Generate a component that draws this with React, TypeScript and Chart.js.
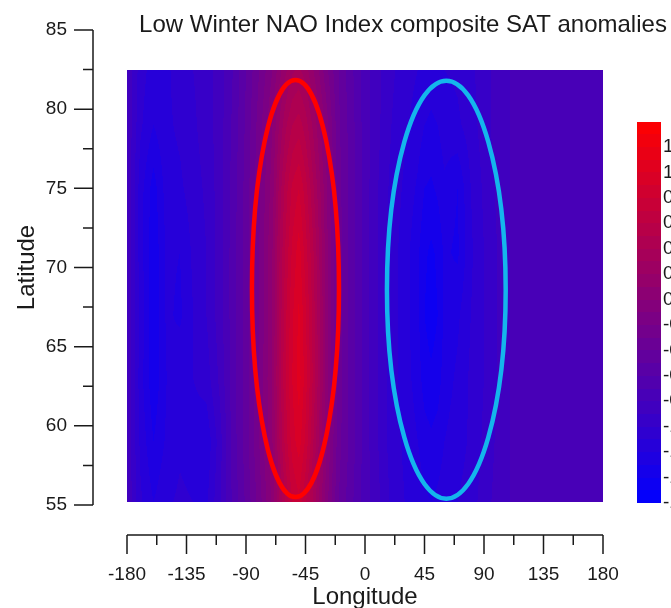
import React, { useEffect, useRef } from "react";
import { Chart, registerables } from "chart.js";

Chart.register(...registerables);

const TITLE = "Low Winter NAO Index composite SAT anomalies";
const X_TITLE = "Longitude";
const Y_TITLE = "Latitude";

const X_TICKS = [-180, -135, -90, -45, 0, 45, 90, 135, 180];
const X_MINOR = [-157.5, -112.5, -67.5, -22.5, 22.5, 67.5, 112.5, 157.5];
const Y_TICKS = [55, 60, 65, 70, 75, 80, 85];
const Y_MINOR = [57.5, 62.5, 67.5, 72.5, 77.5, 82.5];
const CB_TICKS = [1.2, 1.0, 0.8, 0.6, 0.4, 0.2, 0.0, -0.2, -0.4, -0.6, -0.8, -1.0, -1.2, -1.4, -1.6];
const CB_MIN = -1.6;
const CB_MAX = 1.4;
const BAND = 0.1;

// grid longitudes (columns) and latitudes (rows, bottom to top)
const LONS = [-180, -170, -160, -150, -140, -130, -120, -110, -100, -90, -80, -70, -65, -60, -55, -50, -45, -40, -35, -30, -20, -10, 0, 10, 20, 30, 40, 45, 50, 55, 60, 70, 80, 90, 100, 110, 120, 140, 160, 180];
const LATS = [55.2, 59, 63, 67, 71, 75, 79, 82.5];

// SAT anomaly values per latitude row
const SAT_55 = [-0.80, -1.08, -1.20, -1.12, -1.08, -1.10, -1.12, -0.92, -0.68, -0.48, -0.25, 0.02, 0.28, 0.52, 0.70, 0.78, 0.62, 0.42, 0.20, -0.02, -0.40, -0.58, -0.75, -0.88, -1.02, -1.10, -1.15, -1.18, -1.20, -1.18, -1.15, -1.10, -1.05, -0.95, -0.86, -0.80, -0.74, -0.72, -0.72, -0.75];
const SAT_59 = [-0.80, -1.12, -1.30, -1.18, -1.12, -1.15, -1.18, -0.95, -0.66, -0.45, -0.20, 0.10, 0.38, 0.65, 0.85, 0.95, 0.78, 0.55, 0.30, 0.05, -0.36, -0.55, -0.75, -0.90, -1.05, -1.12, -1.20, -1.25, -1.28, -1.25, -1.20, -1.15, -1.08, -0.98, -0.88, -0.80, -0.74, -0.72, -0.72, -0.75];
const SAT_63 = [-0.80, -1.15, -1.38, -1.20, -1.12, -1.10, -1.05, -0.88, -0.65, -0.45, -0.20, 0.12, 0.42, 0.70, 0.90, 1.05, 0.85, 0.62, 0.36, 0.10, -0.35, -0.55, -0.75, -0.90, -1.05, -1.15, -1.25, -1.35, -1.38, -1.35, -1.25, -1.18, -1.08, -1.00, -0.90, -0.80, -0.74, -0.72, -0.72, -0.75];
const SAT_67 = [-0.80, -1.12, -1.38, -1.18, -1.22, -1.10, -1.00, -0.85, -0.65, -0.45, -0.20, 0.10, 0.40, 0.68, 0.88, 1.02, 0.82, 0.60, 0.35, 0.10, -0.35, -0.55, -0.75, -0.90, -1.05, -1.15, -1.28, -1.40, -1.45, -1.40, -1.28, -1.22, -1.10, -1.00, -0.90, -0.80, -0.74, -0.72, -0.72, -0.75];
const SAT_71 = [-0.80, -1.15, -1.38, -1.18, -1.20, -1.08, -1.00, -0.85, -0.65, -0.45, -0.20, 0.10, 0.38, 0.62, 0.82, 0.95, 0.75, 0.55, 0.32, 0.08, -0.35, -0.55, -0.75, -0.90, -1.05, -1.15, -1.28, -1.38, -1.42, -1.38, -1.28, -1.32, -1.12, -1.00, -0.90, -0.80, -0.74, -0.72, -0.72, -0.75];
const SAT_75 = [-0.80, -1.15, -1.35, -1.15, -1.12, -1.05, -0.98, -0.85, -0.66, -0.46, -0.22, 0.05, 0.32, 0.55, 0.72, 0.80, 0.65, 0.45, 0.25, 0.05, -0.36, -0.55, -0.75, -0.90, -1.03, -1.12, -1.22, -1.30, -1.32, -1.28, -1.22, -1.30, -1.10, -0.98, -0.88, -0.80, -0.74, -0.72, -0.72, -0.75];
const SAT_79 = [-0.80, -1.08, -1.20, -1.12, -1.08, -1.02, -0.95, -0.85, -0.68, -0.48, -0.25, 0.00, 0.20, 0.38, 0.50, 0.55, 0.45, 0.30, 0.15, -0.02, -0.38, -0.56, -0.75, -0.88, -1.00, -1.08, -1.15, -1.20, -1.22, -1.20, -1.15, -1.12, -1.05, -0.95, -0.85, -0.80, -0.74, -0.72, -0.72, -0.75];
const SAT_82 = [-0.80, -1.05, -1.15, -1.12, -1.05, -1.00, -0.95, -0.85, -0.70, -0.50, -0.30, -0.10, 0.05, 0.18, 0.28, 0.32, 0.25, 0.12, 0.00, -0.15, -0.40, -0.58, -0.75, -0.88, -0.98, -1.05, -1.10, -1.12, -1.15, -1.12, -1.10, -1.08, -1.02, -0.95, -0.85, -0.80, -0.74, -0.72, -0.72, -0.75];
const GRID = [SAT_55, SAT_59, SAT_63, SAT_67, SAT_71, SAT_75, SAT_79, SAT_82];

// highlighted regions: [lon centre, lat centre, lon half-width, lat half-height]
const RED_ELLIPSE = [-52.6, 68.67, 32.9, 13.17];
const CYAN_ELLIPSE = [61.5, 68.6, 44.9, 13.2];

const FONT = "'Liberation Sans', Arial, sans-serif";
const INK = "#1a1a1a";

const clamp01 = (v: number) => (v < 0 ? 0 : v > 1 ? 1 : v);

function seg(arr: number[], v: number): [number, number] {
  let i = 0;
  while (i < arr.length - 2 && v > arr[i + 1]) i++;
  return [i, clamp01((v - arr[i]) / (arr[i + 1] - arr[i]))];
}

function sample(lon: number, lat: number) {
  const [i, fx] = seg(LONS, lon);
  const [j, fy] = seg(LATS, lat);
  const r0 = GRID[j];
  const r1 = GRID[j + 1];
  const a = r0[i] * (1 - fx) + r0[i + 1] * fx;
  const b = r1[i] * (1 - fx) + r1[i + 1] * fx;
  return a * (1 - fy) + b * fy;
}

function colorOf(v: number): [number, number, number] {
  const q = Math.floor((v - CB_MIN) / BAND) * BAND + BAND / 2 + CB_MIN;
  const t = clamp01((q - CB_MIN) / (CB_MAX - CB_MIN));
  return [Math.round(255 * t), 0, Math.round(255 * (1 - t))];
}

const satPlugin = {
  id: "satPlugin",
  afterDraw(chart: any) {
    const { ctx, chartArea } = chart;
    const xs = chart.scales.x;
    const ys = chart.scales.y;
    const cb = chart.scales.cb;

    // heatmap
    const left = Math.round(xs.getPixelForValue(LONS[0]));
    const right = Math.round(xs.getPixelForValue(LONS[LONS.length - 1]));
    const top = Math.round(ys.getPixelForValue(LATS[LATS.length - 1]));
    const bottom = Math.round(ys.getPixelForValue(LATS[0]));
    const w = right - left;
    const h = bottom - top;
    const off = document.createElement("canvas");
    off.width = w;
    off.height = h;
    const octx = off.getContext("2d")!;
    const img = octx.createImageData(w, h);
    for (let py = 0; py < h; py++) {
      const lat = ys.getValueForPixel(top + py + 0.5);
      for (let px = 0; px < w; px++) {
        const lon = xs.getValueForPixel(left + px + 0.5);
        const [r, g, b] = colorOf(sample(lon, lat));
        const k = (py * w + px) * 4;
        img.data[k] = r;
        img.data[k + 1] = g;
        img.data[k + 2] = b;
        img.data[k + 3] = 255;
      }
    }
    octx.putImageData(img, 0, 0);
    ctx.save();
    ctx.drawImage(off, left, top);

    // ellipses
    const drawEllipse = (e: number[], color: string) => {
      const cx = xs.getPixelForValue(e[0]);
      const cy = ys.getPixelForValue(e[1]);
      const rx = Math.abs(xs.getPixelForValue(e[0] + e[2]) - cx);
      const ry = Math.abs(ys.getPixelForValue(e[1] + e[3]) - cy);
      ctx.beginPath();
      ctx.ellipse(cx, cy, rx, ry, 0, 0, Math.PI * 2);
      ctx.strokeStyle = color;
      ctx.lineWidth = 4.5;
      ctx.stroke();
    };
    drawEllipse(RED_ELLIPSE, "#ff0000");
    drawEllipse(CYAN_ELLIPSE, "#14b6ec");

    // colorbar
    const cbTop = Math.round(cb.getPixelForValue(CB_MAX));
    const cbBot = Math.round(cb.getPixelForValue(CB_MIN));
    const cbL = cb.left + 34;
    const cbW = 24;
    for (let py = cbTop; py < cbBot; py++) {
      const [r, g, b] = colorOf(cb.getValueForPixel(py + 0.5));
      ctx.fillStyle = `rgb(${r},${g},${b})`;
      ctx.fillRect(cbL, py, cbW, 1);
    }

    // detached axes
    ctx.strokeStyle = INK;
    ctx.lineWidth = 1.5;
    const ax = chartArea.left - 34;
    ctx.beginPath();
    ctx.moveTo(ax, ys.getPixelForValue(Y_TICKS[0]));
    ctx.lineTo(ax, ys.getPixelForValue(Y_TICKS[Y_TICKS.length - 1]));
    Y_TICKS.forEach((v) => {
      const p = ys.getPixelForValue(v);
      ctx.moveTo(ax - 19, p);
      ctx.lineTo(ax, p);
    });
    Y_MINOR.forEach((v) => {
      const p = ys.getPixelForValue(v);
      ctx.moveTo(ax - 10, p);
      ctx.lineTo(ax, p);
    });
    const ay = chartArea.bottom + 30;
    ctx.moveTo(xs.getPixelForValue(X_TICKS[0]), ay);
    ctx.lineTo(xs.getPixelForValue(X_TICKS[X_TICKS.length - 1]), ay);
    X_TICKS.forEach((v) => {
      const p = xs.getPixelForValue(v);
      ctx.moveTo(p, ay);
      ctx.lineTo(p, ay + 19);
    });
    X_MINOR.forEach((v) => {
      const p = xs.getPixelForValue(v);
      ctx.moveTo(p, ay);
      ctx.lineTo(p, ay + 10);
    });
    ctx.stroke();
    ctx.restore();
  },
};

export default function App() {
  const ref = useRef<HTMLCanvasElement | null>(null);

  useEffect(() => {
    if (!ref.current) return;
    const tickFont = { family: FONT, size: 19 };
    const gridFor = (len: number) => ({ display: false, drawTicks: true, tickLength: len });
    const chart = new Chart(ref.current, {
      type: "scatter",
      data: { datasets: [] },
      options: {
        animation: false,
        responsive: false,
        devicePixelRatio: 1,
        layout: { padding: 0 },
        plugins: {
          legend: { display: false },
          tooltip: { enabled: false },
          title: {
            display: true,
            text: TITLE,
            color: INK,
            font: { family: FONT, size: 24, weight: "normal", lineHeight: 1.2 },
            padding: { top: 11.2, bottom: -10 },
          },
        },
        scales: {
          x: {
            type: "linear",
            position: "bottom",
            min: X_TICKS[0],
            max: X_TICKS[X_TICKS.length - 1],
            grid: gridFor(50),
            border: { display: false },
            afterBuildTicks: (s: any) => {
              s.ticks = X_TICKS.map((v) => ({ value: v }));
            },
            afterFit: (s: any) => {
              s.height = 103;
            },
            ticks: { font: tickFont, color: INK, padding: 8, maxRotation: 0, autoSkip: false, callback: (v: any) => String(v) },
            title: { display: true, text: X_TITLE, color: INK, font: { family: FONT, size: 24, lineHeight: 1.2 }, padding: { top: 0, bottom: -4 } },
          },
          y: {
            type: "linear",
            position: "left",
            min: Y_TICKS[0],
            max: Y_TICKS[Y_TICKS.length - 1],
            grid: gridFor(52),
            border: { display: false },
            afterBuildTicks: (s: any) => {
              s.ticks = Y_TICKS.map((v) => ({ value: v }));
            },
            afterFit: (s: any) => {
              s.width = 127;
            },
            ticks: { font: tickFont, color: INK, padding: 8, autoSkip: false, callback: (v: any) => String(v) },
            title: { display: true, text: Y_TITLE, color: INK, font: { family: FONT, size: 24, lineHeight: 1.2 }, padding: { top: 12.6, bottom: 0 } },
          },
          cb: {
            type: "linear",
            position: "right",
            min: -1.616,
            max: 2.12,
            grid: gridFor(52),
            border: { display: false },
            afterBuildTicks: (s: any) => {
              s.ticks = CB_TICKS.map((v) => ({ value: v }));
            },
            afterFit: (s: any) => {
              s.width = 203;
            },
            ticks: { font: tickFont, color: INK, padding: 8, autoSkip: false, callback: (v: any) => Number(v).toFixed(1) },
          },
        },
      } as any,
      plugins: [satPlugin],
    });
    return () => chart.destroy();
  }, []);

  return (
    <div style={{ position: "absolute", left: 0, top: 0, width: 671, height: 608, overflow: "hidden", background: "#fff" }}>
      <canvas ref={ref} width={806} height={608} style={{ display: "block" }} />
    </div>
  );
}
